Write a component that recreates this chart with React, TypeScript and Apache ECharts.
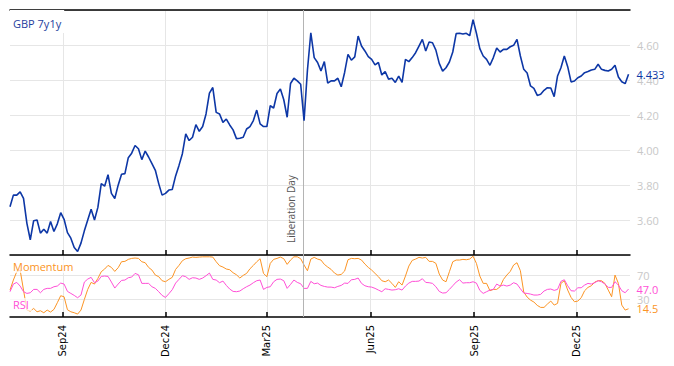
import React, { useEffect, useRef } from "react";
import * as echarts from "echarts";

// ---- data ----
const START_DATE = [2024, 6, 16]; // 16 Jul 2024 (UTC), first sample
const STEP_DAYS = 3; // one reading every 3 calendar days

const gbp7y1y = [
  3.676, 3.742, 3.742, 3.761, 3.723, 3.581, 3.487, 3.596, 3.6, 3.525,
  3.547, 3.525, 3.591, 3.534, 3.578, 3.642, 3.604, 3.528, 3.496, 3.443,
  3.42, 3.468, 3.538, 3.6, 3.661, 3.6, 3.672, 3.808, 3.793, 3.859,
  3.752, 3.723, 3.799, 3.861, 3.865, 3.956, 3.982, 4.026, 4.007, 3.945,
  3.994, 3.96, 3.922, 3.884, 3.808, 3.742, 3.752, 3.771, 3.774, 3.852,
  3.912, 3.979, 4.092, 4.054, 4.073, 4.145, 4.107, 4.134, 4.206, 4.325,
  4.357, 4.215, 4.206, 4.158, 4.177, 4.143, 4.115, 4.065, 4.067, 4.073,
  4.12, 4.134, 4.168, 4.228, 4.149, 4.134, 4.134, 4.253, 4.24, 4.323,
  4.348, 4.287, 4.187, 4.38, 4.41, 4.395, 4.376, 4.168, 4.456, 4.67,
  4.528, 4.5, 4.452, 4.505, 4.382, 4.395, 4.395, 4.41, 4.361, 4.443,
  4.547, 4.513, 4.532, 4.651, 4.594, 4.566, 4.534, 4.518, 4.486, 4.5,
  4.429, 4.448, 4.405, 4.41, 4.386, 4.422, 4.386, 4.518, 4.505, 4.528,
  4.556, 4.594, 4.632, 4.566, 4.617, 4.613, 4.571, 4.495, 4.451, 4.47,
  4.503, 4.56, 4.665, 4.667, 4.663, 4.667, 4.653, 4.745, 4.667, 4.579,
  4.537, 4.518, 4.484, 4.528, 4.583, 4.56, 4.575, 4.575, 4.59, 4.598,
  4.632, 4.537, 4.461, 4.44, 4.366, 4.352, 4.312, 4.318, 4.341, 4.356,
  4.354, 4.305, 4.423, 4.47, 4.537, 4.476, 4.389, 4.394, 4.413, 4.423,
  4.442, 4.448, 4.457, 4.461, 4.49, 4.461, 4.455, 4.451, 4.461, 4.484,
  4.417, 4.39, 4.379, 4.433,
];

const momentum = [
  45.3, 61.8, 75.5, 78.2, 45.3, 12.4, 10.7, 15.1, 9.6, 11.3,
  8.0, 12.4, 9.1, 13.5, 24.5, 36.0, 34.3, 12.9, 9.6, 8.0,
  5.8, 12.4, 29.9, 46.4, 57.9, 55.2, 64.5, 75.5, 79.9, 85.9,
  82.6, 76.0, 82.1, 91.9, 92.5, 95.8, 97.4, 98.0, 97.4, 91.9,
  90.3, 82.6, 78.2, 70.0, 67.3, 60.7, 59.0, 62.9, 66.2, 79.3,
  85.9, 93.6, 96.9, 98.0, 99.6, 99.1, 99.6, 100.0, 100.0, 100.0,
  99.6, 91.9, 85.4, 83.2, 79.9, 78.8, 73.8, 70.5, 65.1, 69.5,
  72.7, 80.4, 85.9, 91.9, 96.9, 72.7, 67.3, 89.2, 95.8, 97.4,
  99.6, 96.9, 87.6, 94.7, 100.0, 100.0, 96.9, 86.5, 77.1, 96.3,
  99.1, 96.3, 94.7, 87.6, 83.2, 79.3, 73.3, 70.0, 71.1, 76.6,
  95.2, 97.4, 96.9, 97.4, 94.7, 88.1, 82.6, 78.2, 72.7, 67.3,
  60.7, 59.0, 61.8, 56.3, 49.7, 59.0, 53.5, 68.4, 84.8, 94.1,
  96.3, 99.1, 98.0, 99.1, 92.5, 92.5, 89.2, 71.6, 61.8, 59.0,
  75.5, 91.9, 94.7, 94.7, 95.8, 95.2, 96.3, 101.0, 89.2, 68.4,
  56.3, 56.3, 44.2, 46.4, 46.4, 50.8, 62.9, 70.0, 76.0, 86.5,
  90.3, 77.1, 42.0, 33.8, 28.8, 25.6, 20.1, 16.8, 16.8, 22.3,
  27.2, 20.6, 23.4, 56.3, 60.7, 45.3, 33.2, 26.1, 27.2, 32.7,
  44.2, 49.7, 52.4, 58.5, 60.7, 60.7, 56.3, 45.3, 34.3, 70.0,
  56.3, 20.6, 12.4, 14.5,
];

const rsi = [
  42.6, 55.2, 57.9, 51.9, 42.6, 39.8, 40.9, 46.4, 46.4, 40.9,
  46.4, 48.1, 48.1, 50.8, 51.9, 56.8, 55.2, 43.1, 39.8, 36.5,
  32.7, 37.1, 58.5, 63.4, 66.2, 57.4, 60.1, 67.8, 68.4, 67.8,
  58.5, 48.6, 55.2, 61.2, 61.8, 65.6, 66.7, 72.7, 70.5, 56.3,
  56.3, 56.3, 50.8, 48.1, 42.6, 36.5, 33.2, 39.3, 45.9, 56.8,
  62.9, 68.9, 67.3, 62.9, 65.6, 65.1, 62.9, 65.1, 68.9, 73.3,
  62.9, 61.8, 57.4, 60.1, 53.0, 47.0, 43.1, 42.6, 43.7, 47.5,
  50.8, 53.5, 57.4, 60.7, 61.8, 46.4, 49.7, 50.8, 59.0, 62.9,
  63.4, 60.7, 48.1, 54.6, 61.8, 57.9, 55.7, 48.1, 48.1, 59.6,
  55.7, 56.8, 53.0, 51.3, 50.2, 50.2, 49.1, 51.3, 53.0, 56.8,
  56.3, 62.3, 62.9, 65.1, 56.3, 52.4, 50.8, 50.2, 48.1, 45.3,
  42.6, 47.5, 46.4, 45.3, 45.9, 47.5, 45.3, 51.9, 56.8, 59.6,
  59.6, 60.1, 64.0, 57.9, 57.4, 56.3, 50.8, 43.1, 40.4, 40.9,
  46.4, 52.4, 58.5, 62.3, 56.8, 57.4, 57.4, 59.0, 56.8, 44.8,
  39.8, 42.6, 45.3, 46.4, 55.2, 51.9, 53.5, 51.9, 53.5, 57.4,
  55.2, 47.5, 40.4, 39.8, 38.7, 37.1, 37.1, 38.2, 43.7, 46.4,
  47.0, 44.8, 46.4, 59.6, 62.3, 52.4, 44.2, 43.7, 49.1, 49.1,
  53.5, 56.3, 55.2, 57.4, 60.7, 59.0, 55.2, 49.7, 49.7, 59.0,
  53.5, 44.2, 40.9, 47.0,
];

const quarterTickDates = [
  [2024, 8, 1], [2024, 11, 1], [2025, 2, 1], [2025, 5, 1], [2025, 8, 1], [2025, 11, 1],
];
const quarterTickLabels = ["Sep24", "Dec24", "Mar25", "Jun25", "Sep25", "Dec25"];
const liberationDayDate = [2025, 3, 2];
const liberationDayLabel = "Liberation Day";
const priceTitle = "GBP 7y1y";
const momentumTitle = "Momentum";
const rsiTitle = "RSI";
const rsiGuides = [30, 70];

// ---- helpers ----
const DAY = 86400000;
const ts = (d: number[]) => Date.UTC(d[0], d[1], d[2]);
const startTs = ts(START_DATE);
const dates = gbp7y1y.map((_, i) => startTs + i * STEP_DAYS * DAY);
const tickTs = quarterTickDates.map(ts);
const libTs = ts(liberationDayDate);
const X_MIN = startTs;
const X_MAX = startTs + 550.3 * DAY;

const BLUE = "#0d37a6";
const ORANGE = "#fb9425";
const PINK = "#ff4fd6";
const GRID_COLOR = "#e6e6e6";
const AXIS_LABEL_GREY = "#c8c8c8";
const FONT = "Open Sans";

export default function App() {
  const ref = useRef<HTMLDivElement>(null);

  useEffect(() => {
    document.body.style.margin = "0";
    const chart = echarts.init(ref.current!, undefined, { renderer: "svg" });

    const xBase = (gridIndex: number, withLabels: boolean) => ({
      type: "value",
      gridIndex,
      min: X_MIN,
      max: X_MAX,
      position: "bottom",
      axisLine: { show: true, onZero: false, lineStyle: { color: "#000", width: 1.5 } },
      axisTick: {
        show: true,
        inside: true,
        length: 5,
        customValues: tickTs,
        lineStyle: { color: "#000", width: 1.5 },
      },
      axisLabel: {
        show: withLabels,
        customValues: tickTs,
        rotate: 90,
        margin: 8,
        color: "#000",
        fontSize: 10,
        fontFamily: "DejaVu Sans",
        formatter: (v: number) => {
          const k = tickTs.findIndex((t) => Math.abs(t - v) < DAY / 2);
          return k >= 0 ? quarterTickLabels[k] : "";
        },
      },
      splitLine: { show: true, lineStyle: { color: GRID_COLOR, width: 1 } },
    });

    const option: any = {
      animation: false,
      grid: [
        { left: 10, right: 44, top: 10, height: 245 },
        { left: 10, right: 44, top: 255, height: 62 },
      ],
      xAxis: [
        xBase(0, false),
        xBase(1, true),
        {
          type: "value",
          gridIndex: 0,
          min: X_MIN,
          max: X_MAX,
          position: "top",
          axisLine: { show: true, onZero: false, lineStyle: { color: "#000", width: 1.5 } },
          axisTick: { show: false },
          axisLabel: { show: false },
          splitLine: { show: false },
        },
      ],
      yAxis: [
        {
          type: "value",
          gridIndex: 0,
          position: "right",
          min: 3.4,
          max: 4.8,
          interval: 0.2,
          axisLine: { show: false },
          axisTick: { show: false },
          axisLabel: {
            color: AXIS_LABEL_GREY,
            fontSize: 11,
            fontFamily: FONT,
            margin: 7,
            showMinLabel: false,
            showMaxLabel: false,
            formatter: (v: number) => v.toFixed(2),
          },
          splitLine: { show: true, lineStyle: { color: GRID_COLOR, width: 1 } },
        },
        {
          type: "value",
          gridIndex: 1,
          position: "right",
          min: 1,
          max: 103,
          axisLine: { show: false },
          axisTick: { show: false, customValues: rsiGuides },
          axisLabel: {
            customValues: rsiGuides,
            color: AXIS_LABEL_GREY,
            fontSize: 11,
            fontFamily: FONT,
            margin: 7,
          },
          splitLine: { show: true, lineStyle: { color: GRID_COLOR, width: 1 } },
        },
      ],
      series: [
        {
          name: priceTitle,
          type: "line",
          xAxisIndex: 0,
          yAxisIndex: 0,
          data: dates.map((d, i) => [d, gbp7y1y[i]]),
          showSymbol: false,
          symbol: "none",
          lineStyle: { color: BLUE, width: 1.6 },
          itemStyle: { color: BLUE },
          emphasis: { disabled: true },
          z: 5,
          endLabel: {
            show: true,
            distance: 8,
            color: BLUE,
            fontSize: 11,
            fontFamily: FONT,
            formatter: (p: any) => p.value[1].toFixed(3),
          },
          markLine: {
            silent: true,
            symbol: ["none", "none"],
            animation: false,
            emphasis: { disabled: true },
            lineStyle: { color: "#b4b4b4", width: 1, type: "solid" },
            label: {
              show: true,
              formatter: liberationDayLabel,
              position: "insideStartTop",
              distance: [12, 7],
              color: "#555",
              fontSize: 10,
              fontFamily: FONT,
            },
            data: [{ xAxis: libTs }],
          },
        },
        {
          name: momentumTitle,
          type: "line",
          xAxisIndex: 1,
          yAxisIndex: 1,
          data: dates.map((d, i) => [d, momentum[i]]),
          showSymbol: false,
          symbol: "none",
          lineStyle: { color: ORANGE, width: 1 },
          itemStyle: { color: ORANGE },
          emphasis: { disabled: true },
          endLabel: {
            show: true,
            distance: 8,
            color: ORANGE,
            fontSize: 11,
            fontFamily: FONT,
            formatter: (p: any) => p.value[1].toFixed(1),
          },
        },
        {
          name: rsiTitle,
          type: "line",
          xAxisIndex: 1,
          yAxisIndex: 1,
          data: dates.map((d, i) => [d, rsi[i]]),
          showSymbol: false,
          symbol: "none",
          lineStyle: { color: PINK, width: 1 },
          itemStyle: { color: PINK },
          emphasis: { disabled: true },
          endLabel: {
            show: true,
            distance: 8,
            color: PINK,
            fontSize: 11,
            fontFamily: FONT,
            formatter: (p: any) => p.value[1].toFixed(1),
          },
          markLine: {
            silent: true,
            symbol: ["none", "none"],
            animation: false,
            emphasis: { disabled: true },
            lineStyle: { color: "#b4b4b4", width: 1, type: "solid" },
            label: { show: false },
            data: [{ xAxis: libTs }],
          },
        },
      ],
      graphic: [
        {
          type: "text",
          left: 10,
          top: 10,
          z: 100,
          style: {
            text: priceTitle,
            fill: "#1f3e9e",
            font: `11px "${FONT}"`,
            backgroundColor: "#fff",
            padding: [8, 3, 4, 3],
          },
        },
        {
          type: "text",
          left: 10,
          top: 260,
          z: 100,
          style: {
            text: momentumTitle,
            fill: ORANGE,
            font: `11px "${FONT}"`,
            backgroundColor: "rgba(255,255,255,0.7)",
            padding: [1, 3, 1, 3],
          },
        },
        {
          type: "text",
          left: 10,
          top: 298,
          z: 100,
          style: {
            text: rsiTitle,
            fill: PINK,
            font: `11px "${FONT}"`,
            backgroundColor: "rgba(255,255,255,0.7)",
            padding: [1, 3, 1, 3],
          },
        },
      ],
    };

    chart.setOption(option);
    return () => chart.dispose();
  }, []);

  return <div ref={ref} style={{ width: 674, height: 366 }} />;
}
